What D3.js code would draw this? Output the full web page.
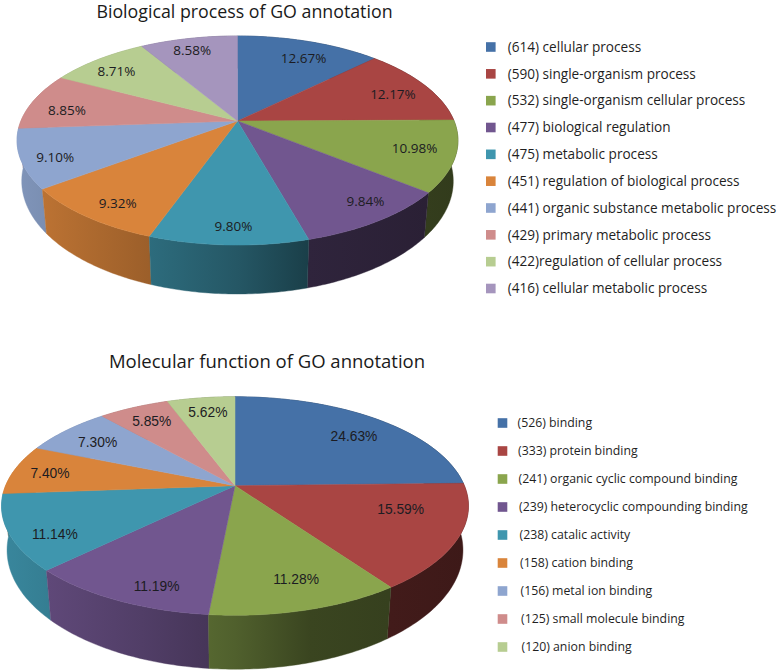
<!DOCTYPE html>
<html><head><meta charset="utf-8">
<script src="https://cdn.jsdelivr.net/npm/d3@7"></script>
<style>html,body{margin:0;padding:0;background:#fff}svg{display:block}</style>
</head><body><svg id="c" width="778" height="671"></svg>
<script>
const sliceColors = ["#4571a7","#a94543","#8aa54d","#71568f","#3f96ae","#d9843b","#8ea5cf","#cf8c8b","#b7cd91","#a595bd"];

const bioTitle = "Biological process of GO annotation";
const bioPercents = [12.67,12.17,10.98,9.84,9.80,9.32,9.10,8.85,8.71,8.58];
const bioLegend = ["(614) cellular process","(590) single-organism process","(532) single-organism cellular process","(477) biological regulation","(475) metabolic process","(451) regulation of biological process","(441) organic substance metabolic process","(429) primary metabolic process","(422)regulation of cellular process","(416) cellular metabolic process"];

const molTitle = "Molecular function of GO annotation";
const molPercents = [24.63,15.59,11.28,11.19,11.14,7.40,7.30,5.85,5.62];
const molLegend = ["(526) binding","(333) protein binding","(241) organic cyclic compound binding","(239) heterocyclic compounding binding","(238) catalic activity","(158) cation binding","(156) metal ion binding","(125) small molecule binding","(120) anion binding"];

const svg = d3.select("#c");
const defs = svg.append("defs");
const shade = d3.scaleLinear().domain([0,.3,.5,.66,1]).range([.9,.72,.58,.42,.36]);
const pieGen = d3.pie().sort(null).value(d=>d);
const lineGen = d3.line();
const range = (a,b,n)=>d3.range(n+1).map(i=>a+(b-a)*i/n);

function drawChart(o){
  const g = svg.append("g");
  const plane = p => {
    const sx = d3.scaleLinear([-1,1],[o.cx-p.R,o.cx+p.R]);
    const sy = d3.scaleLinear([-1,1],[p.cy-p.H,p.cy+p.H]);
    return (a,f=1)=>{const X=f*Math.sin(a),Y=-f*Math.cos(a),w=1-o.k*Y;return [sx(X/w),sy(Y/w)];};
  };
  const top = plane(o.top), low = plane(o.low);
  const arcs = pieGen(o.percents);
  const left = o.cx-o.top.R*1.02, right = o.cx+o.top.R*1.02;

  // side walls, rear to front
  const order = arcs.slice().sort((a,b)=>Math.cos(b.startAngle/2+b.endAngle/2)-Math.cos(a.startAngle/2+a.endAngle/2));
  order.forEach(d=>{
    const id = o.id+"w"+d.index, base = d3.rgb(sliceColors[d.index]);
    const grad = defs.append("linearGradient").attr("id",id).attr("gradientUnits","userSpaceOnUse")
      .attr("x1",left).attr("x2",right).attr("y1",0).attr("y2",0);
    shade.domain().forEach(t=>{
      const s = shade(t);
      grad.append("stop").attr("offset",t).attr("stop-color",d3.rgb(base.r*s,base.g*s,base.b*s).formatHex());
    });
    const as = range(d.startAngle,d.endAngle,48);
    const pts = as.map(a=>top(a)).concat(as.slice().reverse().map(a=>low(a)));
    g.append("path").attr("d",lineGen(pts)+"Z").attr("fill",`url(#${id})`).attr("stroke",`url(#${id})`).attr("stroke-width",.4);
  });

  // top faces
  arcs.forEach(d=>{
    const as = range(d.startAngle,d.endAngle,48);
    const pts = [top(0,0)].concat(as.map(a=>top(a)));
    g.append("path").attr("d",lineGen(pts)+"Z").attr("fill",sliceColors[d.index]).attr("stroke",sliceColors[d.index]).attr("stroke-width",.5);
  });

  // value labels
  arcs.forEach((d,i)=>{
    const p = top((d.startAngle+d.endAngle)/2,o.labelR);
    g.append("text").attr("x",p[0]+o.labelNudge[i][0]).attr("y",p[1]+o.labelNudge[i][1]).attr("dy","0.35em").attr("text-anchor","middle")
      .attr("font-family",o.labelFont).attr("font-size",o.labelSize).attr("fill","#1c1c22")
      .text(o.percents[i].toFixed(2)+"%");
  });

  // title
  g.append("text").attr("x",o.titleX).attr("y",o.titleY).attr("text-anchor","middle")
    .attr("font-family","'Open Sans'").attr("font-size",o.titleSize).attr("fill","#1a1a1a").text(o.title);

  // legend
  const ly = d3.scaleLinear([0,o.legend.length-1],o.legendY);
  const lx = d3.scaleLinear([0,o.legend.length-1],o.legendTextX);
  o.legend.forEach((t,i)=>{
    g.append("rect").attr("x",o.swatchX).attr("y",ly(i)-4.8).attr("width",9.6).attr("height",9.6).attr("fill",sliceColors[i]);
    g.append("text").attr("x",lx(i)).attr("y",ly(i)).attr("dy","0.35em").attr("font-family","'Open Sans'")
      .attr("font-size",o.legendSize).attr("fill","#1f1f1f").text(t);
  });
}

drawChart({id:"b",title:bioTitle,percents:bioPercents,legend:bioLegend,cx:237.5,k:.1866,
  top:{R:216.6,H:100.9,cy:121},low:{R:212,H:109,cy:160},labelR:.8,labelFont:"'Open Sans'",labelSize:13.5,
  labelNudge:[[7,3],[4,2],[5,-1],[19,3],[3,10],[-3,8],[-11,7],[-6,5],[-7,1],[-5,-3]],
  titleX:244.5,titleY:18,titleSize:17.8,swatchX:486,legendY:[47,288.5],legendTextX:[507.7,507.7],legendSize:13.6});
drawChart({id:"m",title:molTitle,percents:molPercents,legend:molLegend,cx:235,k:.1857,
  top:{R:229.4,H:105.5,cy:485.7},low:{R:224,H:115,cy:528},labelR:.8,labelFont:"'Liberation Sans'",labelSize:13.8,
  labelNudge:[[3,5],[-10,-17],[6,-2],[13,13],[-2,12],[-8,1],[0,2],[0,0],[1,-1]],
  titleX:267,titleY:368,titleSize:18.5,swatchX:497.7,legendY:[423,647],legendTextX:[517.5,521.5],legendSize:12.3});
</script></body></html>
